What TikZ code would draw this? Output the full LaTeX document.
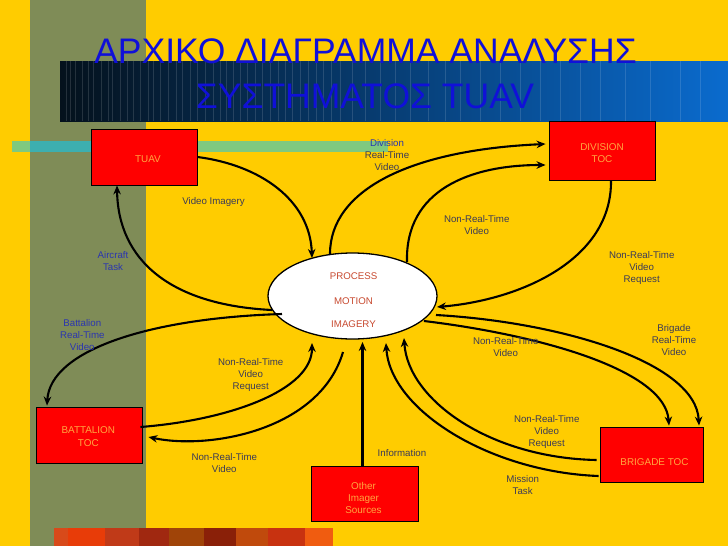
\documentclass[tikz,border=0pt]{standalone}
\usepackage{fontspec}
\setmainfont{Liberation Sans}
\usetikzlibrary{arrows.meta,calc,shapes.geometric}
\definecolor{bgyellow}{HTML}{FFCC00}
\definecolor{olive}{HTML}{7F8C57}
\definecolor{stripteal}{HTML}{3DAFAF}
\definecolor{stripgreen}{HTML}{7FC97F}
\definecolor{boxred}{HTML}{FF0000}
\definecolor{boxtxt}{HTML}{FFA640}
\definecolor{elltxt}{HTML}{C84A30}
\definecolor{lblgray}{HTML}{3A3A58}
\definecolor{lblblue}{HTML}{2A35B0}
\definecolor{titleblue}{HTML}{1010D8}
\definecolor{barleft}{HTML}{04111C}
\definecolor{barmid}{HTML}{063D72}
\definecolor{barright}{HTML}{0A6BCE}
\begin{document}
\begin{tikzpicture}[x=1pt,y=-1pt,
  lbl/.style={text=lblgray, font=\fontsize{9.7}{12}\selectfont, align=center, inner sep=0pt},
  lblb/.style={lbl, text=lblblue},
  redbox/.style={draw=black, line width=0.9pt, fill=boxred, inner sep=0pt},
  boxtext/.style={text=boxtxt, font=\fontsize{9.9}{12.4}\selectfont, align=center, inner sep=0pt},
  elltext/.style={text=elltxt, font=\fontsize{9.7}{12}\selectfont, inner sep=0pt},
  conn/.style={draw=black, line width=2.1pt, -{Stealth[length=9pt,width=7.5pt]}},
  titletext/.style={text=titleblue, font=\fontsize{35.5}{40}\selectfont, inner sep=0pt, anchor=base}
]
\useasboundingbox (0,0) rectangle (728,546);
% background
\fill[bgyellow] (0,0) rectangle (728,546);
\fill[olive] (30,0) rectangle (146,546);
\fill[stripgreen] (12,141) rectangle (388,152);
\fill[stripteal] (30,141) rectangle (146,152);
\shade[left color=barleft, middle color=barmid, right color=barright] (60,61) rectangle (728,121);
\foreach \x in {66,70,75,82,88,93,101,108,112,120,127,133,140,148,153,160,168,176,182,190,197,205,213,220,226,233,240,247,255,262,270,278,285,292,300,308,316,323,331,340,352,365,380,395,410,428,445,460,480,500,520,540,560,580,600,625,650,680,700}
  \draw[white, opacity=0.13, line width=0.5pt] (\x,61) -- (\x,121);
% bottom blocks
\fill[fill={rgb,255:red,216;green,74;blue,26}] (54,528) rectangle (68,546);
\fill[fill={rgb,255:red,232;green,60;blue,8}] (68,528) rectangle (105,546);
\fill[fill={rgb,255:red,192;green,58;blue,24}] (105,528) rectangle (139,546);
\fill[fill={rgb,255:red,160;green,40;blue,16}] (139,528) rectangle (169,546);
\fill[fill={rgb,255:red,160;green,68;blue,8}] (169,528) rectangle (204,546);
\fill[fill={rgb,255:red,138;green,32;blue,8}] (204,528) rectangle (236,546);
\fill[fill={rgb,255:red,192;green,74;blue,12}] (236,528) rectangle (268,546);
\fill[fill={rgb,255:red,200;green,50;blue,16}] (268,528) rectangle (305,546);
\fill[fill={rgb,255:red,240;green,92;blue,16}] (305,528) rectangle (333,546);
% title
\node[titletext] (title1) at (365.5,63) {ΑΡΧΙΚΟ ΔΙΑΓΡΑΜΜΑ ΑΝΑΛΥΣΗΣ};
\node[titletext] (title2) at (365,108) {ΣΥΣΤΗΜΑΤΟΣ TUAV};
% nodes
\node[redbox, minimum width=106pt, minimum height=56pt] (tuav) at (144,157) {};
\node[boxtext] (tuavtxt) at ($(tuav.center)+(4,2)$) {TUAV};
\node[redbox, minimum width=106pt, minimum height=59pt] (div) at (602,150.5) {};
\node[boxtext] (divtxt) at ($(div.center)+(0,2.5)$) {DIVISION\\TOC};
\node[redbox, minimum width=106pt, minimum height=56pt] (batt) at (89,435) {};
\node[boxtext] (batttxt) at ($(batt.center)+(-0.7,1.7)$) {BATTALION\\TOC};
\node[redbox, minimum width=107pt, minimum height=55pt] (other) at (364.5,493.5) {};
\node[boxtext] (othertxt) at ($(other.center)+(-1,4.5)$) {Other\\Imager\\Sources};
\node[redbox, minimum width=103pt, minimum height=55pt] (brig) at (651.5,454.5) {};
\node[boxtext] (brigtxt) at ($(brig.center)+(3,8)$) {BRIGADE TOC};
\node[draw=black, line width=1.3pt, fill=white, ellipse, minimum width=169pt, minimum height=86pt, inner sep=0pt] (pmi) at (352.5,296) {};
% connectors
\draw[conn] (tuav.east) .. controls (260,165) and (310,200) .. ($(pmi.center)+(-40.5,-38)$);
\draw[conn] ($(pmi.center)+(-80.5,14)$) .. controls (170,305) and (118,260) .. ($(tuav.south)+(-27,0)$);
\draw[conn] ($(pmi.center)+(-22.5,-42)$) .. controls (330,190) and (410,150) .. ($(div.west)+(-3,-6.5)$);
\draw[conn] ($(pmi.center)+(54.5,-34)$) .. controls (405,190) and (470,165) .. ($(div.west)+(-3,14.5)$);
\draw[conn] ($(div.south)+(9,0)$) .. controls (612,260) and (520,300) .. ($(pmi.center)+(84.5,11)$);
\draw[conn] ($(pmi.center)+(-70.5,18)$) .. controls (150,318) and (50,350) .. ($(batt.north)+(-42,-1)$);
\draw[conn] ($(batt.east)+(-2,-8)$) .. controls (230,420) and (312,390) .. ($(pmi.center)+(-40.5,47)$);
\draw[conn] ($(pmi.center)+(-9.5,56)$) .. controls (320,430) and (210,450) .. ($(batt.east)+(6,2)$);
\draw[conn] ($(other.north)+(-2,0)$) -- ($(pmi.center)+(10,46)$);
\draw[conn] ($(brig.west)+(-3,5.5)$) .. controls (490,458) and (408,400) .. ($(pmi.center)+(51.5,42)$);
\draw[conn] ($(brig.west)+(-1,21.5)$) .. controls (490,472) and (390,410) .. ($(pmi.center)+(33.5,47)$);
\draw[conn] ($(pmi.center)+(71.5,25)$) .. controls (540,335) and (665,370) .. ($(brig.north)+(17.5,-1)$);
\draw[conn] ($(pmi.center)+(83.5,19)$) .. controls (560,322) and (696,362) .. ($(brig.north)+(47.5,-1)$);
% ellipse text
\node[elltext] (p1) at (353.5,276) {PROCESS};
\node[elltext] (p2) at (353.5,301) {MOTION};
\node[elltext] (p3) at (353.5,324.3) {IMAGERY};
% labels
\node[lbl] (lvi) at (213.5,202) {Video Imagery};
\node[lblb] (lat) at (113,261.5) {Aircraft\\Task};
\node[lbl] (ldiv) at (387,155.3) {{\color{lblblue}Division}\\Real-Time\\Video};
\node[lbl] (ldnrt) at (476.7,225.3) {Non-Real-Time\\Video};
\node[lbl] (ldreq) at (641.7,267.7) {Non-Real-Time\\Video\\Request};
\node[lblb] (lbrt) at (82.3,334.7) {Battalion\\Real-Time\\Video};
\node[lbl] (lbreq) at (250.7,375.3) {Non-Real-Time\\Video\\Request};
\node[lbl] (lbnrt) at (224.3,462.7) {Non-Real-Time\\Video};
\node[lbl] (linfo) at (402,453.3) {Information};
\node[lbl] (lgnrt) at (505.7,346.7) {Non-Real-Time\\Video};
\node[lbl] (lgrt) at (674,339.7) {Brigade\\Real-Time\\Video};
\node[lbl] (lgreq) at (546.7,432.3) {Non-Real-Time\\Video\\Request};
\node[lbl] (lmt) at (522.7,484.7) {Mission\\Task};
\end{tikzpicture}
\end{document}
